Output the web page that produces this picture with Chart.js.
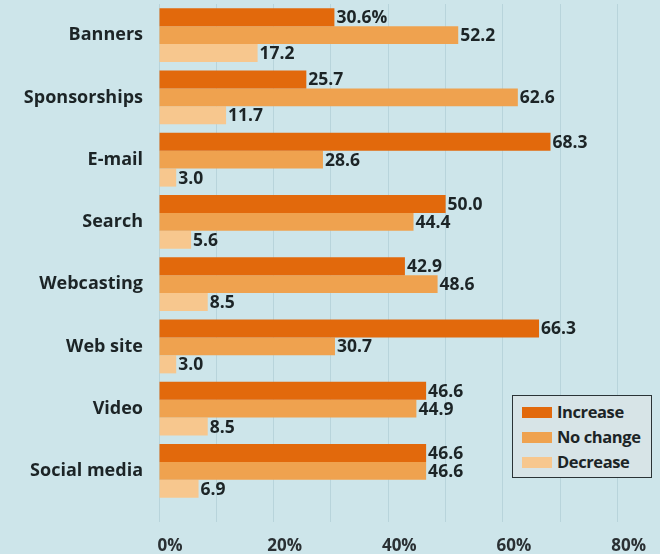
<!DOCTYPE html>
<html>
<head>
<meta charset="utf-8">
<script src="https://cdn.jsdelivr.net/npm/chart.js@4/dist/chart.umd.min.js"></script>
<style>
  html, body { margin:0; padding:0; background:#cde5ea; }
  #wrap { position:relative; width:660px; height:554px; }
  canvas { display:block; }
  #legend { position:absolute; left:512px; top:395px; width:140px; height:83px; box-sizing:border-box;
    border:1px solid #2a3336; background:#d7e4e7; font-family:"Open Sans", sans-serif; font-weight:bold; font-size:16.5px; color:#1c2426; letter-spacing:-0.4px; }
  .row { position:absolute; left:9px; height:18px; line-height:18px; white-space:nowrap; }
  .sw { display:inline-block; width:30px; height:11px; vertical-align:middle; margin-right:5px; margin-top:-2px; }
</style>
</head>
<body>
<div id="wrap">
<canvas id="c" width="660" height="554"></canvas>
<div id="legend"></div>
</div>
<script>
const categories = ["Banners","Sponsorships","E-mail","Search","Webcasting","Web site","Video","Social media"];
const increase = [30.6, 25.7, 68.3, 50.0, 42.9, 66.3, 46.6, 46.6];
const noChange = [52.2, 62.6, 28.6, 44.4, 48.6, 30.7, 44.9, 46.6];
const decrease = [17.2, 11.7, 3.0, 5.6, 8.5, 3.0, 8.5, 6.9];
const seriesNames = ["Increase","No change","Decrease"];
const seriesColors = ["#e2690c","#efa24f","#f7c78e"];
const xTicks = [0,10,20,30,40,50,60,70,80];

const legend = document.getElementById('legend');
seriesNames.forEach((n,i)=>{
  const r = document.createElement('div');
  r.className='row'; r.style.top = (7 + i*25)+'px';
  r.innerHTML = '<span class="sw" style="background:'+seriesColors[i]+'"></span>'+n;
  legend.appendChild(r);
});

const valueLabels = {
  id:'valueLabels',
  afterDatasetsDraw(chart){
    const ctx = chart.ctx;
    ctx.save();
    ctx.font = 'bold 17.5px "Open Sans", sans-serif';
    ctx.fillStyle = '#1c2426';
    ctx.textBaseline = 'middle';
    ctx.textAlign = 'left';
    chart.data.datasets.forEach((ds,di)=>{
      const meta = chart.getDatasetMeta(di);
      meta.data.forEach((bar,i)=>{
        let t = ds.data[i].toFixed(1);
        if (di===0 && i===0) t += '%';
        ctx.fillText(t, bar.x + 2, bar.y + 1);
      });
    });
    ctx.restore();
  }
};

new Chart(document.getElementById('c'), {
  type:'bar',
  data:{
    labels: categories,
    datasets:[
      {label:seriesNames[0], data:increase, backgroundColor:seriesColors[0]},
      {label:seriesNames[1], data:noChange, backgroundColor:seriesColors[1]},
      {label:seriesNames[2], data:decrease, backgroundColor:seriesColors[2]}
    ]
  },
  options:{
    indexAxis:'y',
    responsive:false,
    animation:false,
    layout:{autoPadding:false, padding:{top:4,left:0,right:0,bottom:0}},
    datasets:{bar:{barPercentage:1, categoryPercentage:0.867}},
    plugins:{legend:{display:false}, tooltip:{enabled:false}},
    scales:{
      x:{
        min:0, max:87.4,
        afterBuildTicks(s){ s.ticks = xTicks.map(v=>({value:v})); },
        afterFit(s){ s.height = 52; s.paddingLeft = 0; s.paddingRight = 0; },
        grid:{color:'rgba(140,178,188,0.32)', drawTicks:true, tickLength:20},
        border:{display:false},
        ticks:{padding:14, labelOffset:11, color:'#2a3033', font:{family:'Open Sans', weight:'bold', size:17},
          callback:v=> v%20===0 ? v+'%' : ''}
      },
      y:{
        afterFit(s){ s.width = 159; s.paddingTop = 0; s.paddingBottom = 0; },
        grid:{display:false, drawTicks:false},
        border:{display:false},
        ticks:{padding:16, color:'#1c2426', font:{family:'Open Sans', weight:'bold', size:18}}
      }
    }
  },
  plugins:[valueLabels]
});
</script>
</body>
</html>
